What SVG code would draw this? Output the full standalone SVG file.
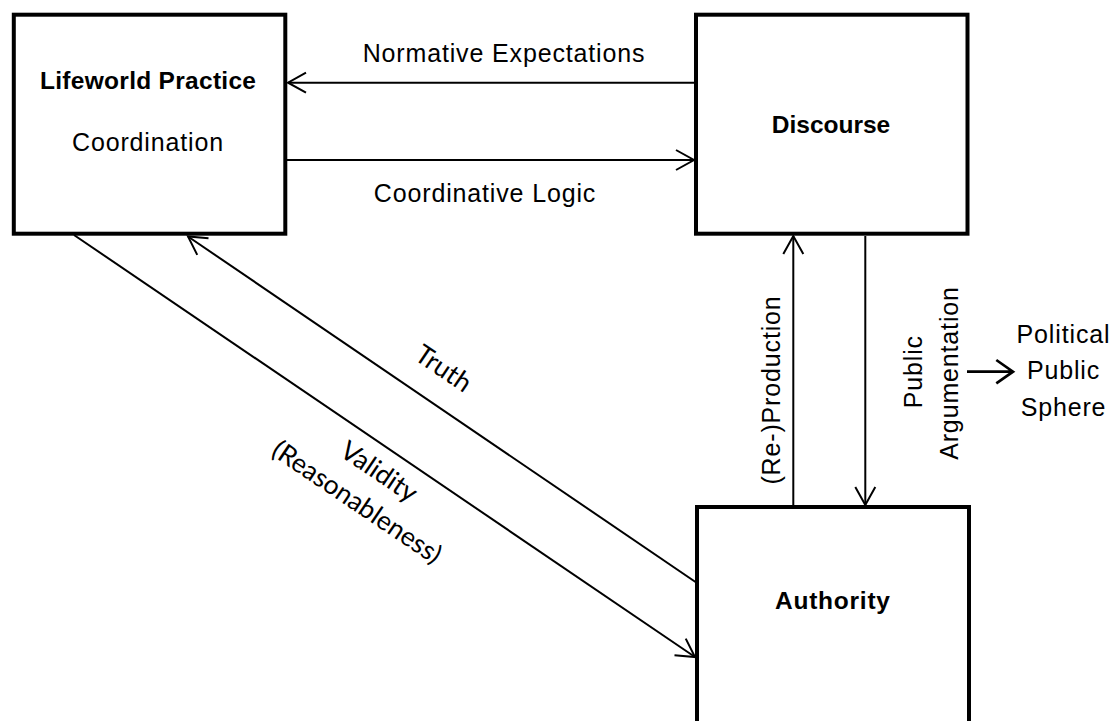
<svg xmlns="http://www.w3.org/2000/svg" width="1111" height="721" viewBox="0 0 1111 721">
  <style>
    .box { fill: #fff; stroke: #000; stroke-width: 4; }
    .conn { fill: none; stroke: #000; stroke-width: 2; }
    .lbl { font-family: "Liberation Sans", Arial, sans-serif; font-size: 25px; letter-spacing: 0.85px; fill: #000; text-anchor: middle; }
    .title { font-family: "Liberation Sans", Arial, sans-serif; font-size: 24.5px; font-weight: bold; fill: #000; text-anchor: middle; }
    .slant { font-family: Lato, "Open Sans", sans-serif; font-size: 26.5px; fill: #000; text-anchor: middle; }
  </style>
  <defs>
    <marker id="arrow" viewBox="-22 -12 24 24" refX="0" refY="0" markerWidth="24" markerHeight="24" markerUnits="userSpaceOnUse" orient="auto" style="overflow:visible">
      <path d="M-18,-10 L0,0 L-18,10" fill="none" stroke="#000" stroke-width="2"/>
    </marker>
  </defs>

  <rect width="1111" height="721" fill="#fff"/>

  <!-- nodes -->
  <g id="lifeworld">
    <rect class="box" x="13.8" y="14.7" width="271.5" height="219"/>
    <text class="title" x="148" y="89" textLength="216" lengthAdjust="spacing">Lifeworld Practice</text>
    <text class="lbl" x="148" y="150.7">Coordination</text>
  </g>

  <g id="discourse">
    <rect class="box" x="696" y="14.7" width="271.5" height="219"/>
    <text class="title" x="831" y="133.3">Discourse</text>
  </g>

  <g id="authority">
    <rect class="box" x="697" y="507" width="272" height="240"/>
    <text class="title" x="832.5" y="609" textLength="115" lengthAdjust="spacing">Authority</text>
  </g>

  <g id="public-sphere">
    <text class="lbl" x="1063.5" y="342.7">Political</text>
    <text class="lbl" x="1063.5" y="379.3">Public</text>
    <text class="lbl" x="1063.5" y="415.9">Sphere</text>
  </g>

  <!-- connectors -->
  <g id="connectors">
    <line class="conn" x1="694" y1="82.7" x2="288" y2="82.7" marker-end="url(#arrow)"/>
    <line class="conn" x1="287" y1="160" x2="694" y2="160" marker-end="url(#arrow)"/>
    <line class="conn" x1="697" y1="583" x2="188" y2="236.5" marker-end="url(#arrow)"/>
    <line class="conn" x1="74" y1="235" x2="695" y2="657" marker-end="url(#arrow)"/>
    <line class="conn" x1="793.3" y1="505" x2="793.3" y2="236" marker-end="url(#arrow)"/>
    <line class="conn" x1="865.3" y1="236" x2="865.3" y2="505" marker-end="url(#arrow)"/>
    <path d="M967,371.7 H1013 M996.3,360 L1013,371.7 L996.3,383.4" fill="none" stroke="#000" stroke-width="2.7"/>
  </g>

  <!-- connector labels -->
  <g id="labels">
    <text class="lbl" x="504" y="61.7">Normative Expectations</text>
    <text class="lbl" x="485" y="201.7">Coordinative Logic</text>
    <text class="lbl" transform="translate(779.5,390) rotate(-90)">(Re-)Production</text>
    <text class="lbl" transform="translate(921.5,371.7) rotate(-90)">Public</text>
    <text class="lbl" transform="translate(958,373) rotate(-90)">Argumentation</text>
    <text class="slant" transform="translate(438.5,376) rotate(34)">Truth</text>
    <text class="slant" transform="translate(374,479) rotate(34)">Validity</text>
    <text class="slant" transform="translate(352,509.5) rotate(34)">(Reasonableness)</text>
  </g>
</svg>
